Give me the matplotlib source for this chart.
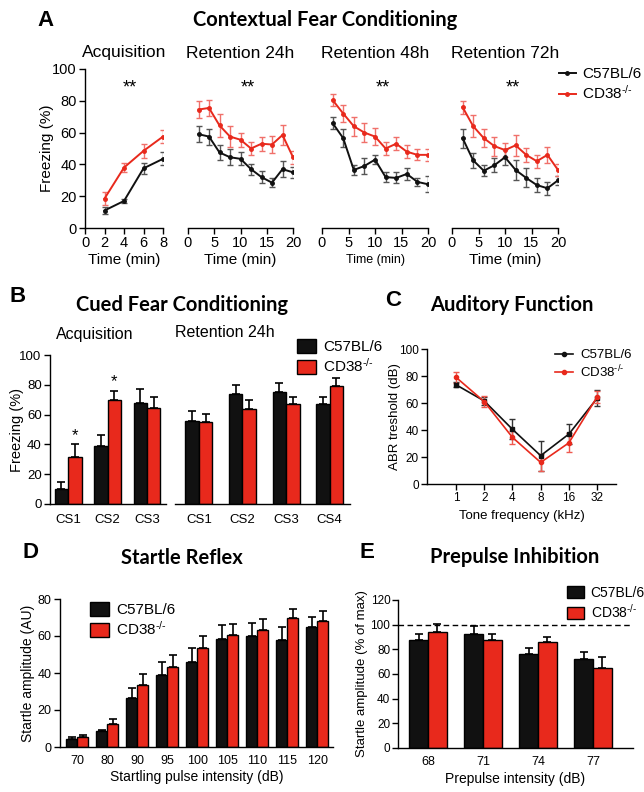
import matplotlib
matplotlib.use('Agg')
import matplotlib.pyplot as plt
from matplotlib.lines import Line2D
import numpy as np

plt.rcParams['font.family'] = ['Liberation Sans', 'DejaVu Sans']
plt.rcParams['mathtext.fontset'] = 'custom'
plt.rcParams['mathtext.rm'] = 'Liberation Sans'
plt.rcParams['mathtext.default'] = 'regular'
plt.rcParams['axes.linewidth'] = 1.0
plt.rcParams['xtick.major.width'] = 1.0
plt.rcParams['ytick.major.width'] = 1.0
plt.rcParams['xtick.major.size'] = 4
plt.rcParams['ytick.major.size'] = 4

W, H = 644, 792
BLACK = '#111111'
RED = '#e8291c'
KO = 'CD38$^{\u2010/\u2010}$'
WT = 'C57BL/6'

# ---- A: contextual fear conditioning (freezing %) ----
acq_t = [2, 4, 6, 8]
acq_wt = [11, 17, 37.5, 43.5]
acq_wt_err = [2, 1.5, 3.5, 4]
acq_ko = [18.5, 38, 48.5, 57.5]
acq_ko_err = [4, 3, 4.5, 4]

ret_t = [2, 4, 6, 8, 10, 12, 14, 16, 18, 20]
r24_wt = [59, 57.5, 47.5, 44.5, 43.5, 37, 32, 28.5, 37, 35]
r24_wt_err = [5, 5, 5, 5, 4, 3.5, 4, 3, 5, 3.5]
r24_ko = [74.5, 75.5, 64.5, 57.5, 55.5, 50, 53, 52.5, 58.5, 44.5]
r24_ko_err = [5.5, 5, 7, 6.5, 4.5, 4, 4.5, 5.5, 6, 4]
r48_wt = [66, 56.5, 36.5, 39, 43, 32, 31.5, 34, 29, 27.5]
r48_wt_err = [4, 5.5, 3, 5, 3, 3, 3.5, 3.5, 2.5, 5]
r48_ko = [80.5, 72, 64, 60, 57.5, 50, 53, 48, 46, 46]
r48_ko_err = [3.5, 5.5, 6, 6, 5.5, 4, 4, 4, 3.5, 4]
r72_wt = [56.5, 42.5, 36, 39.5, 44.5, 36.5, 31.5, 27, 25, 30]
r72_wt_err = [6, 4.5, 3.5, 4.5, 5, 6.5, 6, 4.5, 4, 3]
r72_ko = [76, 64, 56.5, 51.5, 49, 52, 46, 42, 46, 36.5]
r72_ko_err = [4, 7, 5.5, 6, 4.5, 6.5, 4.5, 4, 5, 4]

# ---- B: cued fear conditioning ----
cs_acq = ['CS1', 'CS2', 'CS3']
cs_acq_wt = [10, 39, 67.5]
cs_acq_wt_err = [4.5, 7, 9.5]
cs_acq_ko = [31.5, 70, 64.5]
cs_acq_ko_err = [8.5, 6, 7]
cs_ret = ['CS1', 'CS2', 'CS3', 'CS4']
cs_ret_wt = [55.5, 73.5, 75.5, 67]
cs_ret_wt_err = [7, 6.5, 6, 4.5]
cs_ret_ko = [55, 63.5, 67, 79]
cs_ret_ko_err = [5.5, 6.5, 5, 5.5]

# ---- C: auditory function ----
freq = ['1', '2', '4', '8', '16', '32']
abr_wt = [73.5, 61.5, 40.5, 21, 37, 63.5]
abr_wt_err = [2, 3, 7.5, 11, 7.5, 6]
abr_ko = [79, 61, 34.5, 16, 30.5, 64.5]
abr_ko_err = [4, 4, 4.5, 6.5, 7, 4.5]

# ---- D: startle reflex ----
pulse = ['70', '80', '90', '95', '100', '105', '110', '115', '120']
st_wt = [4.3, 8.8, 26.5, 38.7, 45.8, 58.4, 59.8, 58, 64.7]
st_wt_err = [1.3, 0.6, 5.5, 7, 7.5, 7.4, 7, 7, 5.6]
st_ko = [5.2, 12.6, 33.7, 43.2, 53.5, 60.4, 63.4, 69.7, 68]
st_ko_err = [1.1, 2.7, 6, 6.8, 6.3, 6.3, 5.8, 5.1, 5.7]

# ---- E: prepulse inhibition ----
prepulse = ['68', '71', '74', '77']
ppi_wt = [87.6, 92.4, 76, 72.2]
ppi_wt_err = [4.6, 6.6, 4.9, 6]
ppi_ko = [94.3, 87.3, 85.7, 65.2]
ppi_ko_err = [6, 4.9, 4.6, 8.6]

fig = plt.figure(figsize=(W / 100, H / 100), dpi=100)


def axes_px(x0, y0, x1, y1):
    return fig.add_axes([x0 / W, 1 - y1 / H, (x1 - x0) / W, (y1 - y0) / H])


def style(ax, left=True):
    ax.spines['top'].set_visible(False)
    ax.spines['right'].set_visible(False)
    if not left:
        ax.spines['left'].set_visible(False)
        ax.tick_params(axis='y', left=False, labelleft=False)
    ax.patch.set_alpha(0)


# axis labels placed by their centre, in figure pixels
def ylabel_at(ax, text, xpx, size):
    ax.set_ylabel(text, fontsize=size)
    box = ax.get_position()
    ax.yaxis.set_label_coords((xpx / W - box.x0) / box.width, 0.5)
    ax.yaxis.label.set_va('center')


def xlabel_at(ax, text, ypx, size):
    ax.set_xlabel(text, fontsize=size)
    box = ax.get_position()
    ax.xaxis.set_label_coords(0.5, ((1 - ypx / H) - box.y0) / box.height)
    ax.xaxis.label.set_va('center')


def heading(x, y, s, size=14.5):
    fig.text(x / W, 1 - y / H, s, ha='center', va='center', fontsize=size,
             fontweight='bold', family=['Lato', 'DejaVu Sans'])


def letter(x, y, s):
    fig.text(x / W, 1 - y / H, s, ha='center', va='center', fontsize=16,
             fontweight='bold')


def line_panel(ax, x, wt, wt_err, ko, ko_err):
    ax.errorbar(x, wt, yerr=wt_err, color=BLACK, ecolor='#555555', lw=1.4,
                elinewidth=1, capsize=2.5, marker='o', ms=2.5)
    ax.errorbar(x, ko, yerr=ko_err, color=RED, ecolor='#f0706a', lw=1.4,
                elinewidth=1, capsize=2.5, marker='o', ms=2.5)


def bar_pair(ax, pos, wt, wt_err, ko, ko_err, width):
    pos = np.array(pos)
    b1 = ax.bar(pos - width / 2, wt, width, color=BLACK, edgecolor='black', lw=1,
                yerr=[np.zeros(len(wt)), wt_err], capsize=3,
                error_kw=dict(ecolor='black', elinewidth=1.2, capthick=1.2))
    b2 = ax.bar(pos + width / 2, ko, width, color=RED, edgecolor='black', lw=1,
                yerr=[np.zeros(len(ko)), ko_err], capsize=3,
                error_kw=dict(ecolor='black', elinewidth=1.2, capthick=1.2))
    return b1, b2


def bar_legend(handles, x, y, size):
    fig.legend(handles, [WT, KO], loc='upper left', bbox_to_anchor=(x / W, 1 - y / H),
               frameon=False, fontsize=size, handlelength=1.25, handleheight=1.0,
               handletextpad=0.45, labelspacing=0.2, borderaxespad=0, borderpad=0)


# ================= Panel A =================
letter(46, 20, 'A')
heading(325, 20, 'Contextual Fear Conditioning')
a_boxes = [(85, 163, 8), (188, 293, 20), (322, 428, 20), (452, 558, 20)]
a_titles = ['Acquisition', 'Retention 24h', 'Retention 48h', 'Retention 72h']
a_data = [(acq_t, acq_wt, acq_wt_err, acq_ko, acq_ko_err),
          (ret_t, r24_wt, r24_wt_err, r24_ko, r24_ko_err),
          (ret_t, r48_wt, r48_wt_err, r48_ko, r48_ko_err),
          (ret_t, r72_wt, r72_wt_err, r72_ko, r72_ko_err)]
for i, ((x0, x1, xmax), title, d) in enumerate(zip(a_boxes, a_titles, a_data)):
    ax = axes_px(x0, 69, x1, 228)
    style(ax, left=(i == 0))
    line_panel(ax, *d)
    ax.set_xlim(0, xmax)
    ax.set_ylim(0, 100)
    if xmax == 8:
        ax.set_xticks([0, 2, 4, 6, 8])
    else:
        ax.set_xticks([0, 5, 10, 15, 20])
    ax.set_yticks(range(0, 101, 20))
    ax.tick_params(labelsize=10.5, pad=2)
    xlabel_at(ax, 'Time (min)', 260, 9 if i == 2 else 11)
    if i == 0:
        ylabel_at(ax, 'Freezing (%)', 47, 11)
    ax.text(xmax * 0.57, 88, '**', ha='center', va='center', fontsize=13)
    fig.text((x0 + x1) / 2 / W, 1 - 53 / H, title, ha='center', va='center',
             fontsize=12.5)

a_handles = [Line2D([], [], color=BLACK, lw=1.4, marker='o', ms=2.5),
             Line2D([], [], color=RED, lw=1.4, marker='o', ms=2.5)]
fig.legend(a_handles, [WT, KO], loc='upper left', bbox_to_anchor=(559 / W, 1 - 67 / H),
           frameon=False, fontsize=11, handlelength=1.1, handletextpad=0.4,
           labelspacing=0.2, borderaxespad=0, borderpad=0)

# ================= Panel B =================
letter(18, 297, 'B')
heading(182, 305, 'Cued Fear Conditioning')
fig.text(95 / W, 1 - 335 / H, 'Acquisition', ha='center', va='center', fontsize=11.5)
fig.text(225 / W, 1 - 333 / H, 'Retention 24h', ha='center', va='center', fontsize=11.5)

axb1 = axes_px(50, 355, 166, 504)
style(axb1)
bars = bar_pair(axb1, range(len(cs_acq)), cs_acq_wt, cs_acq_wt_err,
                cs_acq_ko, cs_acq_ko_err, 0.34)
axb1.set_xlim(-0.46, 2.48)
axb1.set_ylim(0, 100)
axb1.set_yticks(range(0, 101, 20))
axb1.set_xticks(range(len(cs_acq)))
axb1.set_xticklabels(cs_acq)
axb1.tick_params(axis='x', length=0, pad=7)
axb1.tick_params(labelsize=9.5)
axb1.tick_params(axis='y', pad=2)
ylabel_at(axb1, 'Freezing (%)', 17, 10.5)
for j in [0, 1]:
    axb1.text(j + 0.17, cs_acq_ko[j] + cs_acq_ko_err[j] + 1, '*', ha='center',
              va='bottom', fontsize=12)

axb2 = axes_px(175, 355, 350, 504)
style(axb2, left=False)
bar_pair(axb2, range(len(cs_ret)), cs_ret_wt, cs_ret_wt_err,
         cs_ret_ko, cs_ret_ko_err, 0.31)
axb2.set_xlim(-0.55, 3.47)
axb2.set_ylim(0, 100)
axb2.set_xticks(range(len(cs_ret)))
axb2.set_xticklabels(cs_ret)
axb2.tick_params(axis='x', length=0, pad=7, labelsize=9.5)
bar_legend(bars, 297, 339, 11)

# ================= Panel C =================
letter(393, 300, 'C')
heading(512, 305, 'Auditory Function')
axc = axes_px(427, 349, 616, 484)
style(axc)
xc = np.arange(len(freq))
axc.errorbar(xc, abr_wt, yerr=abr_wt_err, color=BLACK, ecolor='#333333', lw=1.2,
             elinewidth=1, capsize=2.5, marker='s', ms=3)
axc.errorbar(xc, abr_ko, yerr=abr_ko_err, color=RED, ecolor='#ef5a50', lw=1.2,
             elinewidth=1, capsize=2.5, marker='o', ms=3)
axc.set_xlim(-1.03, 5.67)
axc.set_ylim(0, 100)
axc.set_xticks(xc)
axc.set_xticklabels(freq)
axc.set_yticks(range(0, 101, 20))
axc.tick_params(labelsize=8.5, pad=2)
xlabel_at(axc, 'Tone frequency (kHz)', 516, 9.5)
ylabel_at(axc, 'ABR treshold (dB)', 395, 9.5)
c_handles = [Line2D([], [], color=BLACK, lw=1.2, marker='o', ms=3),
             Line2D([], [], color=RED, lw=1.2, marker='o', ms=3)]
fig.legend(c_handles, [WT, KO], loc='upper left', bbox_to_anchor=(555 / W, 1 - 349 / H),
           frameon=False, fontsize=9.5, handlelength=1.4, handletextpad=0.5,
           labelspacing=0.15, borderaxespad=0, borderpad=0)

# ================= Panel D =================
letter(30, 553, 'D')
heading(182, 558, 'Startle Reflex')
axd = axes_px(60, 599, 333, 747)
style(axd)
bars = bar_pair(axd, range(len(pulse)), st_wt, st_wt_err, st_ko, st_ko_err, 0.37)
axd.set_xlim(-0.57, 8.53)
axd.set_ylim(0, 80)
axd.set_xticks(range(len(pulse)))
axd.set_xticklabels(pulse)
axd.set_yticks(range(0, 81, 20))
axd.tick_params(axis='x', length=0, pad=6)
axd.tick_params(labelsize=9)
axd.tick_params(axis='y', pad=2)
xlabel_at(axd, 'Startling pulse intensity (dB)', 777, 10)
ylabel_at(axd, 'Startle amplitude (AU)', 28, 10)
bar_legend(bars, 90, 602, 11)

# ================= Panel E =================
letter(367, 553, 'E')
heading(515, 557, 'Prepulse Inhibition')
axe = axes_px(398, 600, 633, 748)
style(axe)
bars = bar_pair(axe, range(len(prepulse)), ppi_wt, ppi_wt_err, ppi_ko, ppi_ko_err, 0.34)
axe.axhline(100, color='black', ls='--', lw=1, dashes=(4, 2.5))
axe.set_xlim(-0.545, 3.73)
axe.set_ylim(0, 120)
axe.set_xticks(range(len(prepulse)))
axe.set_xticklabels(prepulse)
axe.set_yticks(range(0, 121, 20))
axe.tick_params(axis='x', length=0, pad=6, labelsize=9)
axe.tick_params(axis='y', pad=1.5, labelsize=8.5)
xlabel_at(axe, 'Prepulse intensity (dB)', 779, 10)
ylabel_at(axe, 'Startle amplitude (% of max)', 362, 9.5)
bar_legend(bars, 567, 586, 10)

fig.savefig('out.png', dpi=100)
